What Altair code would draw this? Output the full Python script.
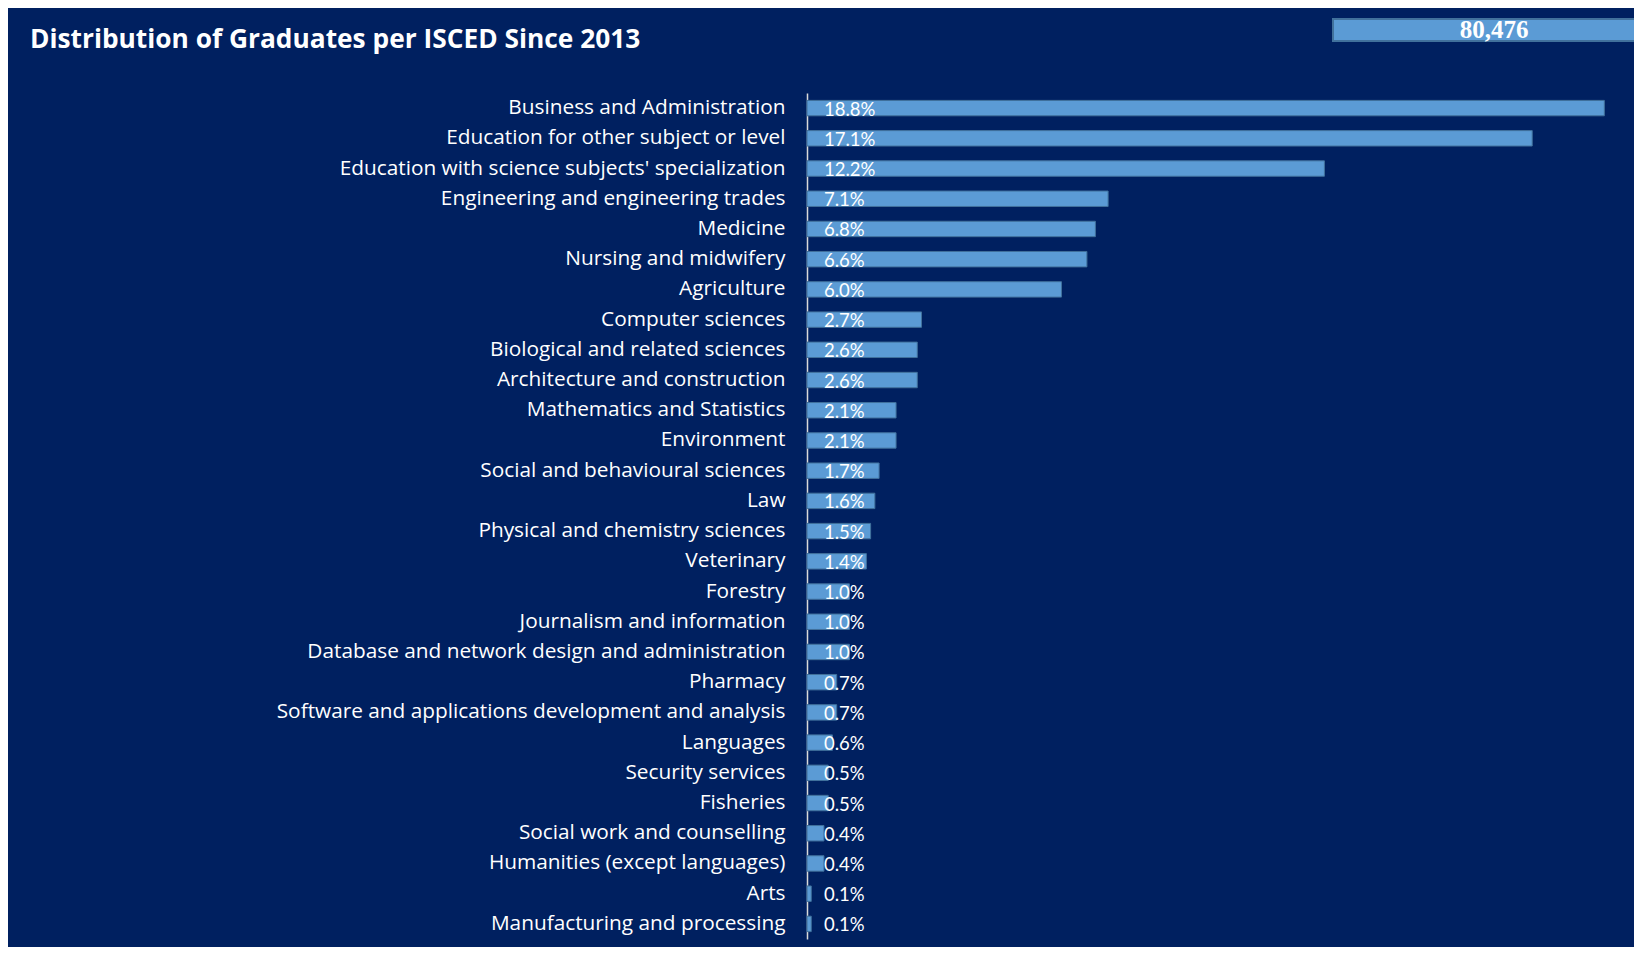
import altair as alt
import pandas as pd

categories = [
    "Business and Administration",
    "Education for other subject or level",
    "Education with science subjects' specialization",
    "Engineering and engineering trades",
    "Medicine",
    "Nursing and midwifery",
    "Agriculture",
    "Computer sciences",
    "Biological and related sciences",
    "Architecture and construction",
    "Mathematics and Statistics",
    "Environment",
    "Social and behavioural sciences",
    "Law",
    "Physical and chemistry sciences",
    "Veterinary",
    "Forestry",
    "Journalism and information",
    "Database and network design and administration",
    "Pharmacy",
    "Software and applications development and analysis",
    "Languages",
    "Security services",
    "Fisheries",
    "Social work and counselling",
    "Humanities (except languages)",
    "Arts",
    "Manufacturing and processing",
]
shares = [18.8, 17.1, 12.2, 7.1, 6.8, 6.6, 6.0, 2.7, 2.6, 2.6, 2.1, 2.1, 1.7, 1.6,
          1.5, 1.4, 1.0, 1.0, 1.0, 0.7, 0.7, 0.6, 0.5, 0.5, 0.4, 0.4, 0.1, 0.1]
total_graduates = [80476]
title_text = ["Distribution of Graduates per ISCED Since 2013"]

NAVY = "#002060"
BAR = "#5B9BD5"
BAR_EDGE = "#41719C"

df = pd.DataFrame({"field": categories, "share": shares})

y_enc = alt.Y(
    "field:N",
    sort=categories,
    title=None,
    scale=alt.Scale(paddingInner=0.49, paddingOuter=0.245),
    axis=alt.Axis(
        labelFont="Open Sans",
        labelFontSize=20.8,
        labelColor="white",
        labelPadding=22,
        labelLimit=700,
        ticks=False,
        grid=False,
        domainColor="#D9D9D9",
        domainWidth=1.5,
    ),
)

base = alt.Chart(df)

bars = base.mark_bar(color=BAR, stroke=BAR_EDGE, strokeWidth=1).encode(
    x=alt.X("share:Q", scale=alt.Scale(domain=[0, 19.5]), axis=None),
    y=y_enc,
)

labels = base.transform_calculate(
    label="format(datum.share, '.1f') + '%'"
).mark_text(
    align="left", baseline="middle", color="white", font="Lato", fontSize=18.5, dy=1.5
).encode(
    x=alt.value(17),
    y=y_enc,
    text="label:N",
)

kpi_df = pd.DataFrame({"total": total_graduates})
kpi_box = alt.Chart(kpi_df).mark_rect(fill=BAR, stroke=BAR_EDGE, strokeWidth=2).encode(
    x=alt.value(526), x2=alt.value(830), y=alt.value(-74), y2=alt.value(-52)
)
kpi_text = alt.Chart(kpi_df).mark_text(
    font="Liberation Serif", fontSize=25, fontWeight="bold", color="white",
    align="center", baseline="middle"
).encode(
    x=alt.value(687), y=alt.value(-63), text=alt.Text("total:Q", format=",")
)

title_df = pd.DataFrame({"title": title_text})
title_mark = alt.Chart(title_df).mark_text(
    font="Open Sans", fontSize=26.3, fontWeight="bold", color="white",
    align="left", baseline="middle"
).encode(
    x=alt.value(-777), y=alt.value(-53), text="title:N"
)

chart = alt.layer(bars, labels, kpi_box, kpi_text, title_mark).properties(
    width=827,
    height=846,
    autosize=alt.AutoSizeParams(type="none"),
    padding={"left": 799, "top": 85, "right": 0, "bottom": 8},
    background=NAVY,
).configure_view(stroke=None)

chart.save("out.html", embed_options={"renderer": "svg", "actions": False})
